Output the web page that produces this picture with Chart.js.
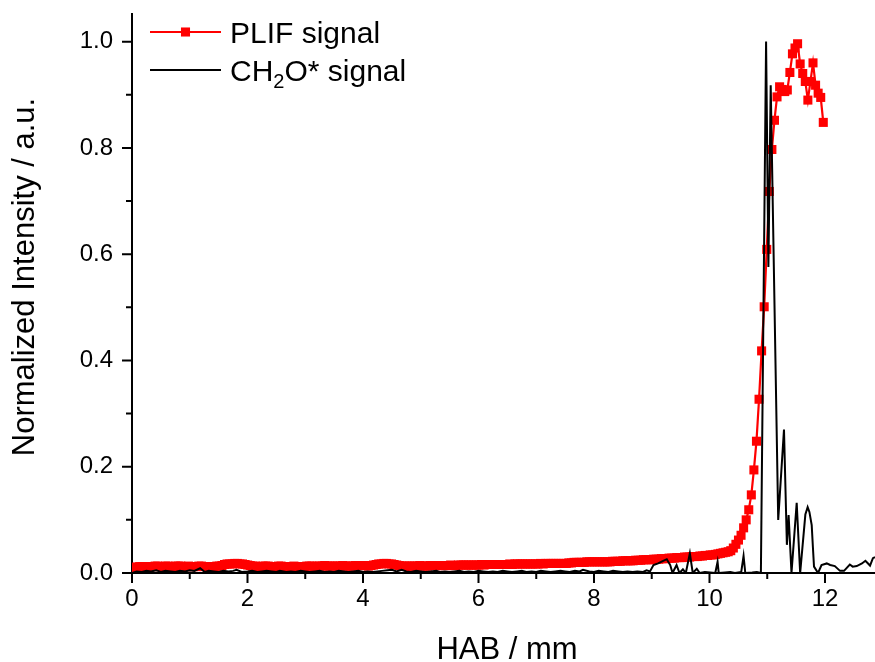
<!DOCTYPE html>
<html><head><meta charset="utf-8">
<script src="https://cdn.jsdelivr.net/npm/chart.js@4.4.0/dist/chart.umd.min.js"></script>
<style>html,body{margin:0;padding:0;background:#fff;}canvas{display:block;}</style>
</head><body>
<canvas id="c" width="875" height="662"></canvas>
<script>
// ---- data ----
const seriesLabels = ['PLIF signal', 'CH\u2082O* signal'];
const axisTitleX = 'HAB / mm';
const axisTitleY = 'Normalized Intensity / a.u.';
const xTickValues = [0, 2, 4, 6, 8, 10, 12];
const xMinorTicks = [1, 3, 5, 7, 9, 11];
const yTickValues = [0, 0.2, 0.4, 0.6, 0.8, 1.0];
const yMinorTicks = [0.1, 0.3, 0.5, 0.7, 0.9];

// PLIF samples, spaced PLIF_STEP mm apart starting at 0 mm
const PLIF_STEP = 0.0445;
const plifSignal = [
0.010,0.011,0.011,0.012,0.012,0.012,0.011,0.012,0.012,0.013,
0.013,0.012,0.012,0.013,0.013,0.012,0.012,0.013,0.013,0.013,
0.012,0.012,0.013,0.012,0.012,0.012,0.013,0.013,0.012,0.012,
0.012,0.012,0.012,0.013,0.013,0.014,0.016,0.017,0.017,0.017,
0.018,0.018,0.017,0.017,0.016,0.015,0.014,0.013,0.013,0.012,
0.012,0.013,0.013,0.013,0.012,0.012,0.012,0.013,0.013,0.012,
0.012,0.012,0.012,0.013,0.012,0.012,0.012,0.012,0.013,0.013,
0.013,0.012,0.013,0.013,0.013,0.014,0.013,0.013,0.013,0.013,
0.013,0.013,0.014,0.013,0.013,0.013,0.013,0.014,0.014,0.014,
0.014,0.014,0.013,0.014,0.015,0.016,0.017,0.017,0.018,0.018,
0.017,0.017,0.016,0.015,0.014,0.013,0.013,0.013,0.013,0.013,
0.013,0.013,0.014,0.013,0.013,0.013,0.014,0.014,0.014,0.014,
0.014,0.014,0.014,0.014,0.015,0.014,0.014,0.015,0.015,0.015,
0.015,0.015,0.015,0.015,0.015,0.015,0.016,0.015,0.016,0.016,
0.016,0.016,0.016,0.016,0.016,0.016,0.016,0.017,0.016,0.017,
0.017,0.017,0.017,0.017,0.017,0.017,0.017,0.017,0.017,0.018,
0.017,0.018,0.018,0.018,0.018,0.018,0.018,0.018,0.018,0.018,
0.019,0.019,0.020,0.020,0.020,0.020,0.020,0.021,0.021,0.021,
0.021,0.021,0.021,0.021,0.021,0.021,0.021,0.022,0.022,0.022,
0.022,0.023,0.023,0.023,0.023,0.023,0.024,0.024,0.024,0.025,
0.025,0.025,0.025,0.026,0.026,0.026,0.027,0.027,0.027,0.028,
0.028,0.028,0.029,0.029,0.029,0.030,0.030,0.030,0.031,0.031,
0.031,0.032,0.032,0.033,0.033,0.034,0.034,0.035,0.036,0.037,
0.038,0.039,0.040,0.042,0.047,0.054,0.062,0.071,0.085,0.100,
0.119,0.147,0.194,0.248,0.327,0.418,0.501,0.609,0.718,0.797,
0.852,0.896,0.915,0.910,0.906,0.909,0.942,0.977,0.988,0.996,
0.958,0.940,0.925,0.890,0.925,0.960,0.918,0.903,0.895,0.848
];

// CH2O* chemiluminescence signal (HAB in mm, normalized intensity)
const ch2oX = [
0.00,0.08,0.17,0.25,0.33,0.42,0.50,0.58,0.67,0.75,0.83,0.92,1.00,
1.08,1.18,1.26,1.33,1.42,1.50,1.58,1.67,1.75,1.81,1.90,2.00,
2.08,2.17,2.25,2.33,2.42,2.50,2.56,2.67,2.75,2.83,2.92,3.00,
3.08,3.17,3.25,3.33,3.42,3.50,3.58,3.67,3.75,3.83,3.92,4.00,
4.08,4.17,4.25,4.33,4.42,4.50,4.58,4.67,4.75,4.83,4.92,5.00,
5.08,5.17,5.27,5.33,5.42,5.50,5.58,5.67,5.75,5.83,5.92,6.00,
6.08,6.17,6.25,6.33,6.42,6.50,6.58,6.67,6.75,6.83,6.92,7.00,
7.08,7.17,7.25,7.33,7.42,7.50,7.58,7.67,7.75,7.81,7.92,8.00,
8.08,8.17,8.25,8.33,8.42,8.50,8.58,8.67,8.75,
8.85,8.91,8.97,9.03,9.11,9.18,9.26,9.32,9.36,9.43,9.48,9.54,9.59,9.66,9.71,9.78,9.83,9.92,
10.01,10.10,10.14,10.16,10.27,10.36,10.44,10.55,10.59,10.62,10.74,10.82,10.89,
10.98,11.02,11.06,11.19,11.29,11.34,11.37,11.42,11.51,11.57,11.66,11.70,11.73,11.77,11.79,11.81,11.88,11.94,
12.03,12.09,12.17,12.26,12.33,12.43,12.48,12.55,12.64,12.70,12.78,12.83,12.866
];
const ch2oY = [
0.000,0.003,0.002,0.004,0.003,0.005,0.002,0.004,0.003,0.002,
0.004,0.003,0.005,0.004,0.009,0.002,0.004,0.003,0.002,0.004,
0.003,0.004,0.006,0.002,0.003,0.004,0.002,0.003,0.004,0.003,
0.002,0.004,0.002,0.003,0.002,0.004,0.003,0.002,0.003,0.004,
0.002,0.003,0.002,0.004,0.003,0.002,0.003,0.004,0.002,0.003,
0.002,0.003,0.004,0.005,0.006,0.003,0.006,0.003,0.002,0.004,
0.003,0.002,0.003,0.004,0.002,0.003,0.002,0.003,0.004,0.002,
0.003,0.002,0.004,0.003,0.002,0.003,0.002,0.004,0.003,0.002,
0.003,0.004,0.002,0.003,0.002,0.004,0.003,0.002,0.003,0.004,
0.003,0.002,0.004,0.003,0.006,0.003,0.002,0.004,0.003,0.002,
0.004,0.003,0.002,0.003,0.002,0.003,
0.002,0.005,0.003,0.015,0.018,0.022,0.026,0.015,0.000,0.015,0.000,0.007,0.000,0.037,0.000,0.008,0.000,0.002,
0.001,0.000,0.021,0.000,0.001,0.002,0.000,0.002,0.032,0.000,0.001,0.002,0.000,
1.000,0.576,0.918,0.100,0.270,0.053,0.109,0.000,0.132,0.000,0.110,0.124,0.115,0.090,0.050,0.012,0.000,0.015,
0.018,0.015,0.013,0.004,0.004,0.016,0.012,0.013,0.018,0.023,0.014,0.028,0.030
];

// ---- chart ----
const FONT = '"Liberation Sans", Arial, Helvetica, sans-serif';

const tickMarks = {
  id: 'tickMarks',
  afterDraw(chart) {
    const ctx = chart.ctx, xs = chart.scales.x, ys = chart.scales.y;
    ctx.save();
    ctx.strokeStyle = '#000';
    ctx.lineWidth = 2;
    ctx.beginPath();
    const y0 = xs.top;
    xTickValues.forEach(v => { const p = xs.getPixelForValue(v); ctx.moveTo(p, y0); ctx.lineTo(p, y0 + 10); });
    xMinorTicks.forEach(v => { const p = xs.getPixelForValue(v); ctx.moveTo(p, y0); ctx.lineTo(p, y0 + 6); });
    const x0 = ys.right;
    yTickValues.forEach(v => { const p = ys.getPixelForValue(v); ctx.moveTo(x0, p); ctx.lineTo(x0 - 10, p); });
    yMinorTicks.forEach(v => { const p = ys.getPixelForValue(v); ctx.moveTo(x0, p); ctx.lineTo(x0 - 6, p); });
    ctx.stroke();

    // axis titles
    ctx.fillStyle = '#000';
    ctx.font = '31px ' + FONT;
    ctx.textAlign = 'center';
    ctx.textBaseline = 'middle';
    ctx.fillText(axisTitleX, 507, 650.5);
    ctx.translate(25.5, 277);
    ctx.rotate(-Math.PI / 2);
    ctx.fillText(axisTitleY, 0, 0);
    ctx.restore();
  }
};

const customLegend = {
  id: 'customLegend',
  afterDraw(chart) {
    const ctx = chart.ctx;
    const ds = chart.data.datasets;
    const order = [1, 0]; // PLIF first, then CH2O*
    const x1 = 150, x2 = 221, tx = 230;
    const rows = [32, 70];
    ctx.save();
    order.forEach((di, r) => {
      const d = ds[di];
      const y = rows[r];
      ctx.strokeStyle = d.borderColor;
      ctx.lineWidth = d.borderWidth;
      ctx.beginPath(); ctx.moveTo(x1, y); ctx.lineTo(x2, y); ctx.stroke();
      if (d.pointRadius > 0) {
        const s = Math.SQRT1_2 * d.pointRadius;
        ctx.fillStyle = d.pointBackgroundColor;
        ctx.fillRect((x1 + x2) / 2 - s, y - s, 2 * s, 2 * s);
      }
      ctx.fillStyle = '#000';
      ctx.textBaseline = 'alphabetic';
      ctx.textAlign = 'left';
      const big = '30px ' + FONT, small = '20px ' + FONT;
      const baseY = y + 11;
      let cx = tx;
      const parts = d.label.split('\u2082');
      parts.forEach((p, k) => {
        ctx.font = big;
        ctx.fillText(p, cx, baseY);
        cx += ctx.measureText(p).width;
        if (k < parts.length - 1) {
          ctx.font = small;
          ctx.fillText('2', cx, baseY + 7);
          cx += ctx.measureText('2').width;
        }
      });
    });
    ctx.restore();
  }
};

new Chart(document.getElementById('c'), {
  type: 'line',
  data: {
    datasets: [
      {
        label: seriesLabels[1],
        data: ch2oX.map((x, i) => ({ x: x, y: ch2oY[i] })),
        borderColor: '#000000',
        borderWidth: 2,
        pointRadius: 0,
        tension: 0,
        order: 0
      },
      {
        label: seriesLabels[0],
        data: plifSignal.map((v, i) => ({ x: +(i * PLIF_STEP).toFixed(4), y: v })),
        borderColor: '#ff0000',
        borderWidth: 2.2,
        pointStyle: 'rect',
        pointRadius: 6.4,
        pointBackgroundColor: '#ff0000',
        pointBorderColor: '#ff0000',
        pointBorderWidth: 0,
        tension: 0,
        order: 1
      }
    ]
  },
  options: {
    responsive: false,
    animation: false,
    devicePixelRatio: 1,
    layout: { autoPadding: false, padding: { top: 14, right: 0, left: 0, bottom: 0 } },
    plugins: { legend: { display: false }, tooltip: { enabled: false } },
    scales: {
      x: {
        type: 'linear',
        min: 0,
        max: 12.866,
        afterBuildTicks: s => { s.ticks = xTickValues.map(v => ({ value: v })); },
        afterFit: s => { s.height = 89; s.paddingLeft = 0; s.paddingRight = 0; },
        ticks: { font: { family: FONT, size: 24 }, color: '#000', padding: 12, maxRotation: 0, autoSkip: false },
        grid: { display: false, drawTicks: false },
        border: { display: true, color: '#000', width: 2 },
        title: { display: false }
      },
      y: {
        type: 'linear',
        min: 0,
        max: 1.052,
        afterBuildTicks: s => { s.ticks = yTickValues.map(v => ({ value: v })); },
        afterFit: s => { s.width = 132; s.paddingTop = 0; s.paddingBottom = 0; },
        ticks: { font: { family: FONT, size: 24 }, color: '#000', padding: 19, callback: v => Number(v).toFixed(1) },
        grid: { display: false, drawTicks: false },
        border: { display: true, color: '#000', width: 2 },
        title: { display: false }
      }
    }
  },
  plugins: [tickMarks, customLegend]
});
</script>
</body></html>
